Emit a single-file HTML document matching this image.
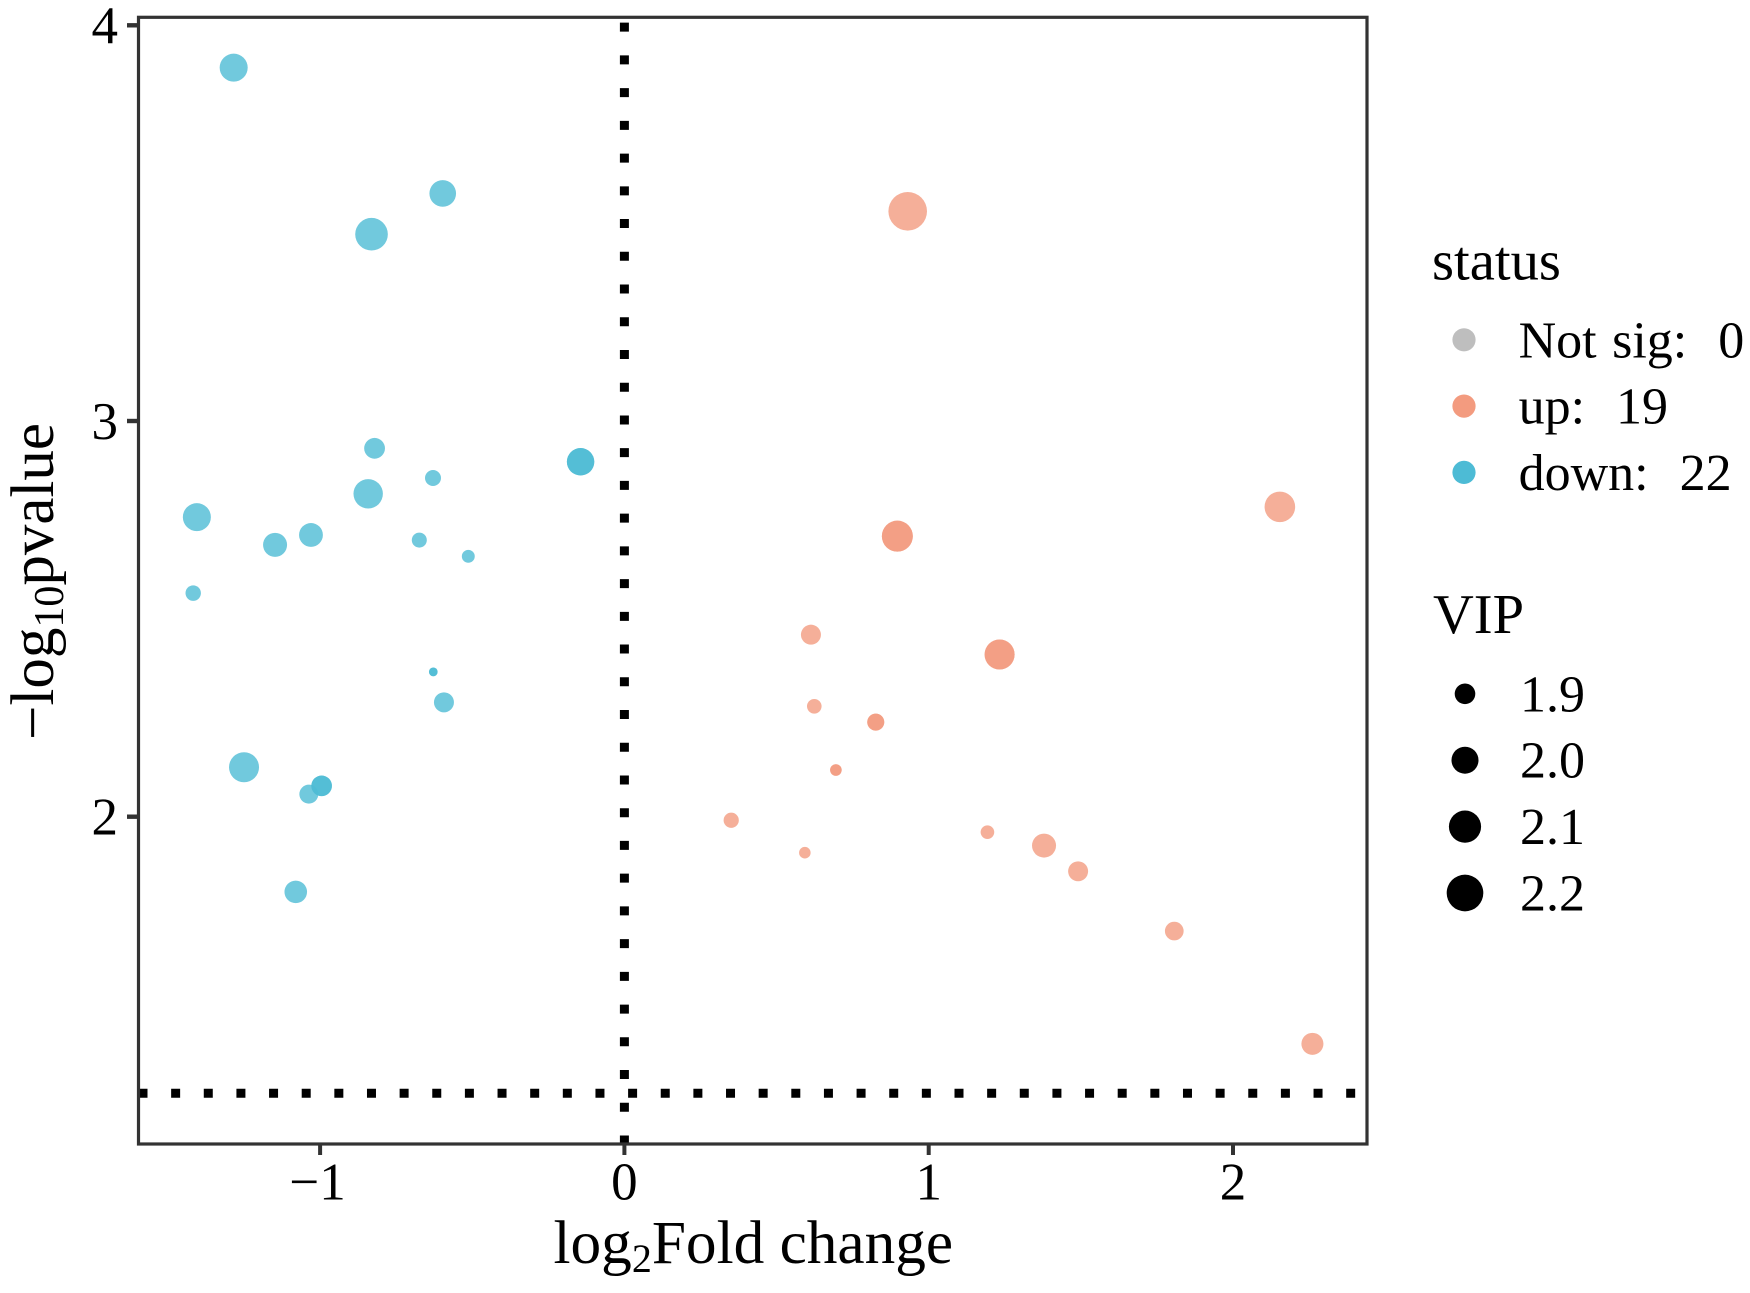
<!DOCTYPE html>
<html lang="en">
<head>
<meta charset="utf-8">
<title>Volcano plot</title>
<style>
  html, body { margin: 0; padding: 0; background: #fff; }
  svg { display: block; }
  text { font-family: "Liberation Serif", "DejaVu Serif", serif; fill: #000; white-space: pre; }
</style>
</head>
<body>
<svg id="chart" xmlns="http://www.w3.org/2000/svg" width="1750" height="1293" viewBox="0 0 1750 1293">
  <rect x="0" y="0" width="1750" height="1293" fill="#ffffff"/>
  <g id="marks"></g>
  <g id="refs"></g>
  <rect x="138.5" y="17.3" width="1228.5" height="1126.7" fill="none" stroke="#333333" stroke-width="3.2"/>
  <g id="axes"></g>

  <text x="553.5" y="1263" font-size="61.3">log<tspan font-size="40" dy="9">2</tspan><tspan dy="-9">Fold change</tspan></text>
  <text transform="translate(53,740) rotate(-90)" x="0" y="0" font-size="61">−log<tspan font-size="42" dy="10">10</tspan><tspan dy="-10">pvalue</tspan></text>

  <text x="1432" y="279.3" font-size="56.6">status</text>
  <text x="1433" y="633" font-size="56.5">VIP</text>
  <g id="legend"></g>
</svg>

<script>
// Axis ticks
const xTickValues = [-1, 0, 1, 2];
const xTickLabels = ['−1', '0', '1', '2'];
const yTickValues = [2, 3, 4];
const yTickLabels = ['2', '3', '4'];

// Reference lines
const vlineX = [0];
const hlineY = [1.301];

// Down-regulated series
const downFC = [-1.284, -0.597, -0.831, -0.821, -0.629, -0.144, -0.144, -0.842, -1.405, -1.030, -1.148, -0.674, -0.513, -1.417, -0.628, -0.628, -0.593, -1.250, -0.995, -0.995, -1.037, -1.080];
const downP = [3.893, 3.575, 3.472, 2.931, 2.856, 2.897, 2.897, 2.816, 2.757, 2.712, 2.687, 2.699, 2.658, 2.565, 2.366, 2.366, 2.289, 2.125, 2.078, 2.078, 2.057, 1.810];
const downVIP = [2.018, 1.993, 2.109, 1.903, 1.845, 2.007, 2.007, 2.044, 2.018, 1.947, 1.950, 1.835, 1.816, 1.839, 1.786, 1.786, 1.892, 2.056, 1.900, 1.900, 1.879, 1.928];

// Up-regulated series
const upFC = [0.931, 2.154, 0.897, 0.897, 0.613, 1.233, 1.233, 0.624, 0.826, 0.826, 0.695, 0.695, 0.351, 0.593, 1.193, 1.379, 1.491, 1.807, 2.261];
const upP = [3.530, 2.783, 2.709, 2.709, 2.460, 2.410, 2.410, 2.279, 2.239, 2.239, 2.118, 2.118, 1.991, 1.909, 1.961, 1.927, 1.862, 1.711, 1.426];
const upVIP = [2.248, 2.067, 2.075, 2.075, 1.892, 2.056, 2.056, 1.831, 1.856, 1.856, 1.805, 1.805, 1.837, 1.805, 1.822, 1.950, 1.892, 1.876, 1.920];

// Legends
const statusLabels = ['Not sig:  0', 'up:  19', 'down:  22'];
const vipLevels = [1.9, 2.0, 2.1, 2.2];
const vipLabels = ['1.9', '2.0', '2.1', '2.2'];

const NS = 'http://www.w3.org/2000/svg';
const COLOR_DOWN = '#4DBBD5';
const COLOR_UP = '#F39B7F';
const COLOR_NS = '#BEBEBE';

function xScale(v) { return 624.4 + 304.3 * v; }
function yScale(v) { return 25.3 + (4 - v) * 395.7; }
function rScale(vip) { return Math.sqrt(Math.max(4, 106 + (vip - 1.9) * 765)); }

function make(tag, parent, attrs) {
  const el = document.createElementNS(NS, tag);
  for (const k in attrs) el.setAttribute(k, attrs[k]);
  parent.appendChild(el);
  return el;
}

const marks = document.getElementById('marks');
const refs = document.getElementById('refs');
const axes = document.getElementById('axes');
const legend = document.getElementById('legend');

// Points
downFC.forEach(function (fc, i) {
  const c = make('circle', marks, { cx: xScale(fc), cy: yScale(downP[i]), r: rScale(downVIP[i]), fill: COLOR_DOWN, 'fill-opacity': 0.8 });
  
  
});
upFC.forEach(function (fc, i) {
  const c = make('circle', marks, { cx: xScale(fc), cy: yScale(upP[i]), r: rScale(upVIP[i]), fill: COLOR_UP, 'fill-opacity': 0.8 });
  
  
});

// Reference lines
vlineX.forEach(function (v) {
  const l = make('line', refs, { x1: xScale(v), x2: xScale(v), y1: 1144.5, y2: 17.3, stroke: '#000', 'stroke-width': 9, 'stroke-dasharray': '9 23.73' });
  
  
});
hlineY.forEach(function (v) {
  const l = make('line', refs, { x1: 138.5, x2: 1367, y1: yScale(v), y2: yScale(v), stroke: '#000', 'stroke-width': 9, 'stroke-dasharray': '9 23.64' });
  
  
});

// X axis
xTickValues.forEach(function (v, i) {
  const t = make('line', axes, { x1: xScale(v), x2: xScale(v), y1: 1144, y2: 1155, stroke: '#333333', 'stroke-width': 4 });
  
  
  const lab = make('text', axes, { x: xScale(v) - (v < 0 ? 2.5 : 0), y: 1199.5, 'font-size': 53, 'text-anchor': 'middle' });
  lab.textContent = xTickLabels[i];
  
  
});

// Y axis
yTickValues.forEach(function (v, i) {
  const t = make('line', axes, { x1: 127, x2: 138.5, y1: yScale(v), y2: yScale(v), stroke: '#333333', 'stroke-width': 4.4 });
  
  
  const lab = make('text', axes, { x: 118, y: yScale(v) + 17.8, 'font-size': 53, 'text-anchor': 'end' });
  lab.textContent = yTickLabels[i];
  
  
});

// Status legend
const statusColors = [COLOR_NS, COLOR_UP, COLOR_DOWN];
statusLabels.forEach(function (s, i) {
  const cy = 339.8 + i * 66.3;
  const c = make('circle', legend, { cx: 1464, cy: cy, r: 11.6, fill: statusColors[i] });
  
  
  const t = make('text', legend, { x: 1518.6, y: cy + 17.6, 'font-size': 52, 'word-spacing': 2.5 });
  t.textContent = s;
  
  
});

// VIP size legend
vipLevels.forEach(function (v, i) {
  const cy = 693.8 + i * 66.4;
  const c = make('circle', legend, { cx: 1465, cy: cy, r: rScale(v), fill: '#000' });
  
  
  const t = make('text', legend, { x: 1520, y: cy + 17.5, 'font-size': 52 });
  t.textContent = vipLabels[i];
  
  
});
</script>
</body>
</html>
